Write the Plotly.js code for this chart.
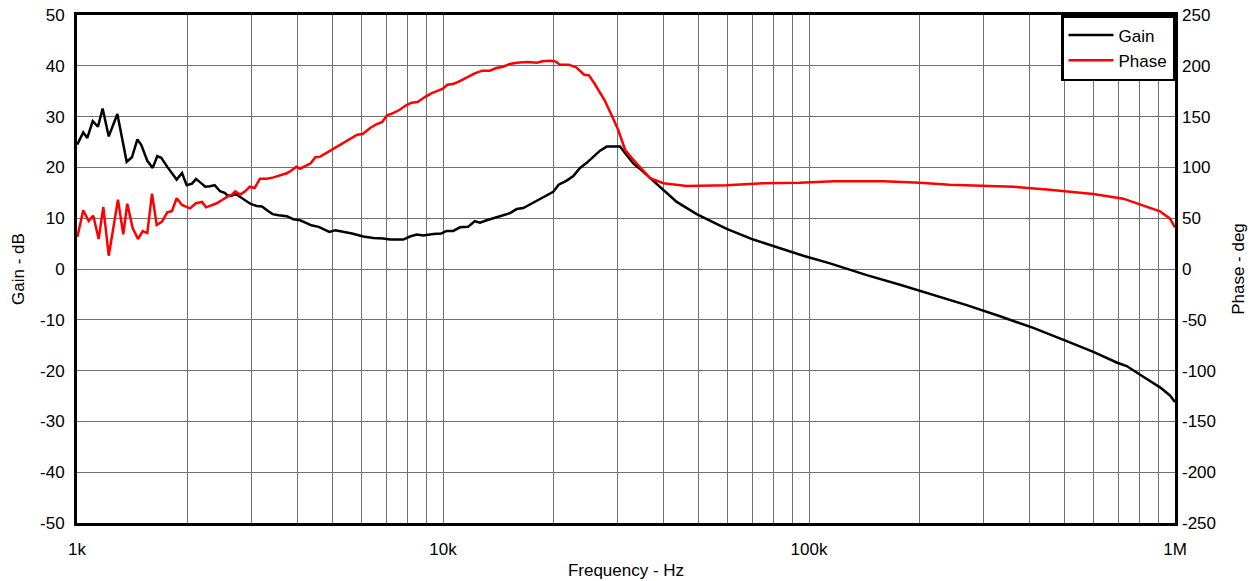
<!DOCTYPE html>
<html>
<head>
<meta charset="utf-8">
<script src="https://cdn.plot.ly/plotly-3.0.1.min.js"></script>
<style>html,body{margin:0;padding:0;background:#fff;}#chart{width:1258px;height:581px;}</style>
</head>
<body>
<div id="chart"></div>
<script>
const gainFreq = [1002,1040,1067,1104,1141,1175,1221,1289,1367,1413,1462,1499,1556,1610,1657,1699,1765,1872,1936,1994,2062,2114,2168,2241,2309,2378,2459,2533,2575,2640,2707,2789,2872,2983,3097,3202,3311,3424,3557,3741,3900,4068,4224,4367,4575,4710,4891,5079,5342,5641,6058,6451,6869,7165,7790,8124,8476,8837,9409,9894,10235,10669,11128,11703,12210,12624,13168,13725,14499,15243,15899,16577,17074,17872,18793,20011,20701,21777,22699,23677,24697,25746,26853,28010,29828,30452,31765,33113,34536,36781,39998,43509,49334,59589,70435,81585,96474,114124,143800,177300,218600,269700,332600,410100,505900,598300,693000,737900,819100,910000,969000,1000000];
const gainDb = [24.5,26.9,25.8,29.1,28.0,31.6,26.1,30.5,21.1,22.0,25.5,24.4,21.3,19.9,22.2,21.9,20.1,17.6,18.9,16.5,16.8,17.7,17.1,16.2,16.3,16.5,15.3,15.0,14.5,14.4,14.8,14.2,13.6,12.8,12.4,12.3,11.5,10.8,10.6,10.4,9.8,9.6,9.1,8.6,8.3,7.8,7.3,7.6,7.3,7.0,6.4,6.1,6.0,5.8,5.8,6.4,6.8,6.6,6.9,7.0,7.5,7.5,8.2,8.3,9.4,9.1,9.6,10.0,10.6,11.0,11.8,12.0,12.5,13.3,14.1,15.2,16.6,17.4,18.3,19.9,20.9,22.1,23.3,24.1,24.2,24.1,22.4,20.8,19.7,17.9,15.6,13.2,10.8,7.9,5.8,4.3,2.6,1.1,-1.2,-3.1,-5.1,-7.1,-9.3,-11.6,-14.2,-16.3,-18.4,-19.1,-21.2,-23.3,-24.9,-26.2];

const phaseFreq = [1002,1040,1076,1108,1146,1180,1221,1256,1294,1338,1372,1420,1468,1512,1556,1603,1651,1707,1765,1818,1872,1936,2036,2114,2195,2253,2328,2408,2492,2575,2651,2707,2789,2880,2967,3056,3162,3300,3442,3590,3741,3870,3972,4068,4224,4350,4481,4618,4818,5062,5342,5593,5831,6032,6321,6596,6823,7033,7277,7599,7930,8208,8530,8898,9288,9694,9984,10285,10640,11011,11390,11839,12210,12810,13420,13990,14600,15240,15900,16950,18070,18700,19690,20270,20870,22060,23110,24310,25050,25910,27620,28850,30120,30780,31460,32900,35200,36780,40000,46360,59590,75000,94270,116700,160000,201000,242000,298000,362000,454000,598000,722000,910000,969000,1000000];
const phaseDeg = [31.5,57.8,47.2,52.5,29.5,61,13.1,40,68.2,34.2,64.3,40,29.5,37.4,35.4,74.1,43.3,46.6,55.8,57.1,69.6,63,59.7,64.7,66,60.7,62.7,64.7,67.9,71.2,73.2,76.5,73.2,76.5,81,79.7,88.9,88.9,90.2,92.2,94.2,97.4,100.7,98.7,102.1,104,110,110.6,114.5,119.1,124.3,128.2,132.2,132.9,138.8,142.7,144.7,151.3,153.2,156.5,161.1,163.7,164.4,169,172.9,175.5,177.5,181.4,182.1,184.1,186.7,190,192.6,195.2,195.2,197.8,199.1,201.8,203.1,203.7,203.1,204.4,205,204.4,201.1,201.1,198.5,191.2,190.6,182.8,166.3,151.9,136.8,127,117.1,108.6,97.4,89.5,84.4,81.7,82.4,84.4,84.9,86.3,86.3,84.9,83,81.7,81,78,73.8,69.2,56.8,49.5,41];

const xTickVals = [1000,2000,3000,4000,5000,6000,7000,8000,9000,10000,20000,30000,40000,50000,60000,70000,80000,90000,100000,200000,300000,400000,500000,600000,700000,800000,900000,1000000];
const xTickText = ['1k','','','','','','','','','10k','','','','','','','','','100k','','','','','','','','','1M'];
const gainTicks = [-50,-40,-30,-20,-10,0,10,20,30,40,50];
const gainTickText = ['-50','-40','-30','-20','-10','0','10','20','30','40','50'];
const phaseTicks = [-250,-200,-150,-100,-50,0,50,100,150,200,250];
const phaseTickText = ['-250','-200','-150','-100','-50','0','50','100','150','200','250'];

const font = {family: 'Liberation Sans, Arial, sans-serif', size: 17, color: '#000'};

const traces = [
  {x: gainFreq, y: gainDb, name: 'Gain', type: 'scatter', mode: 'lines', line: {color: '#000000', width: 2.5}, yaxis: 'y'},
  {x: phaseFreq, y: phaseDeg, name: 'Phase', type: 'scatter', mode: 'lines', line: {color: '#ff0000', width: 2.5}, yaxis: 'y2'}
];

const layout = {
  width: 1258, height: 581,
  margin: {l: 77, r: 83, t: 15, b: 58},
  paper_bgcolor: '#fff', plot_bgcolor: '#fff',
  font: font,
  showlegend: true,
  legend: {x: 1, y: 1, xanchor: 'right', yanchor: 'top', bgcolor: '#fff', bordercolor: '#000', borderwidth: 2.5,
           font: {family: font.family, size: 17, color: '#000'}, itemwidth: 45, tracegroupgap: 0},
  xaxis: {
    type: 'log', range: [3, 6],
    tickvals: xTickVals, ticktext: xTickText,
    showgrid: true, gridcolor: '#707070', gridwidth: 1,
    showline: true, linecolor: '#000', linewidth: 3, mirror: true,
    ticks: '', ticklabelstandoff: 9,
    zeroline: false,
    title: {text: 'Frequency - Hz', font: font, standoff: 6}
  },
  yaxis: {
    range: [-50, 50], tickvals: gainTicks, ticktext: gainTickText,
    showgrid: true, gridcolor: '#707070', gridwidth: 1,
    showline: true, linecolor: '#000', linewidth: 3, mirror: true,
    ticks: '', ticklabelstandoff: 6, zeroline: false,
    title: {text: 'Gain - dB', font: font, standoff: 12}
  },
  yaxis2: {
    range: [-250, 250], tickvals: phaseTicks, ticktext: phaseTickText, overlaying: 'y', side: 'right',
    showgrid: false, zeroline: false, showline: false,
    ticks: '', ticklabelstandoff: 6,
    title: {text: 'Phase - deg', font: font, standoff: 17}
  }
};

Plotly.newPlot('chart', traces, layout, {displayModeBar: false, responsive: false});
</script>
</body>
</html>
